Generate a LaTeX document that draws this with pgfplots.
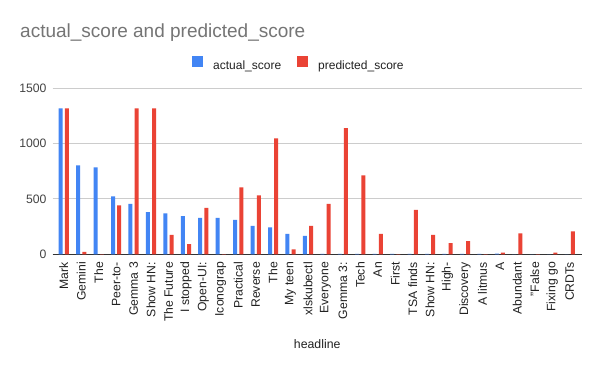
\documentclass[border=0pt]{standalone}
\usepackage{fontspec}
\setmainfont{Liberation Sans}
\usepackage{pgfplots}
\pgfplotsset{compat=1.18}
\definecolor{cblue}{HTML}{4285F4}
\definecolor{cred}{HTML}{EA4335}
\definecolor{cgrid}{HTML}{CCCCCC}
\definecolor{ctitle}{HTML}{757575}
\definecolor{ctick}{HTML}{444444}
\definecolor{ctext}{HTML}{222222}
\definecolor{cbase}{HTML}{333333}
\begin{document}
\begin{tikzpicture}[x=1pt,y=1pt]
\useasboundingbox[fill=white] (0pt,0pt) rectangle (600pt,371pt);
\node[anchor=base west, inner sep=0pt, text=ctitle, font=\fontsize{19}{21}\selectfont] at (20pt,333.3pt) {actual\_score and predicted\_score};
\begin{axis}[
  at={(52.7pt,116.7pt)}, anchor=south west,
  scale only axis, width=529pt, height=166pt,
  ymin=0, ymax=1500, ytick={0,500,1000,1500},
  xmin=-0.636, xmax=29.69,
  xtick={0,...,29},
  xticklabels={Mark,Gemini,The,Peer-to-,{Gemma 3},{Show HN:},{The Future},{I stopped},Open-UI:,Iconograp,Practical,Reverse,The,{My teen},xlskubectl,Everyone,{Gemma 3:},Tech,An,First,{TSA finds},{Show HN:},High-,Discovery,{A litmus},A,Abundant,{"False},{Fixing go},CRDTs},
  ybar=2.2pt, bar width=4pt,
  ymajorgrids, grid style={cgrid, line width=1pt},
  axis x line*=bottom, axis y line*=left,
  x axis line style={cbase, line width=1pt, -},
  y axis line style={draw=none},
  major tick length=0pt,
  xtick style={draw=none}, ytick style={draw=none},
  /pgf/number format/assume math mode=true,
  /pgf/number format/1000 sep={},
  yticklabel style={inner sep=0pt, xshift=-6pt, text=ctick, font=\fontsize{12.2}{14}\selectfont},
  xticklabel style={yshift=-7.7pt, rotate=90, anchor=east, inner sep=0pt, text=ctext, font=\fontsize{12.2}{14}\selectfont},
  xlabel={headline},
  xlabel style={at={(axis description cs:0.5,-0.5705)}, anchor=base, inner sep=0pt, text=ctext, font=\fontsize{12.3}{14}\selectfont},
  legend columns=2,
  legend style={at={(axis description cs:0.2633,1.1494)}, anchor=west, draw=none, fill=none, inner sep=0pt,
    font=\fontsize{12}{14}\selectfont, text=ctext,
    nodes={inner sep=0pt},
    /tikz/every odd column/.append style={column sep=10pt},
    /tikz/every even column/.append style={column sep=16pt}},
  legend image code/.code={\fill[#1,draw=none] (0pt,-2pt) rectangle (11pt,9pt);},
]
\addplot[fill=cblue, draw=none] coordinates {
(0,1319) (1,804) (2,786) (3,524) (4,455) (5,380) (6,370) (7,346) (8,328) (9,328)
(10,310) (11,256) (12,244) (13,184) (14,166) (15,3) (16,3) (17,3) (18,3) (19,3)
(20,3) (21,3) (22,3) (23,3) (24,3) (25,5) (26,0) (27,0) (28,0) (29,0)};
\addplot[fill=cred, draw=none] coordinates {
(0,1319) (1,21) (2,2) (3,443) (4,1319) (5,1319) (6,175) (7,93) (8,419) (9,2)
(10,605) (11,533) (12,1048) (13,45) (14,256) (15,455) (16,1139) (17,714) (18,184) (19,2)
(20,401) (21,175) (22,102) (23,120) (24,2) (25,15) (26,190) (27,2) (28,15) (29,208)};
\legend{actual\_score,predicted\_score}
\end{axis}
\end{tikzpicture}
\end{document}
